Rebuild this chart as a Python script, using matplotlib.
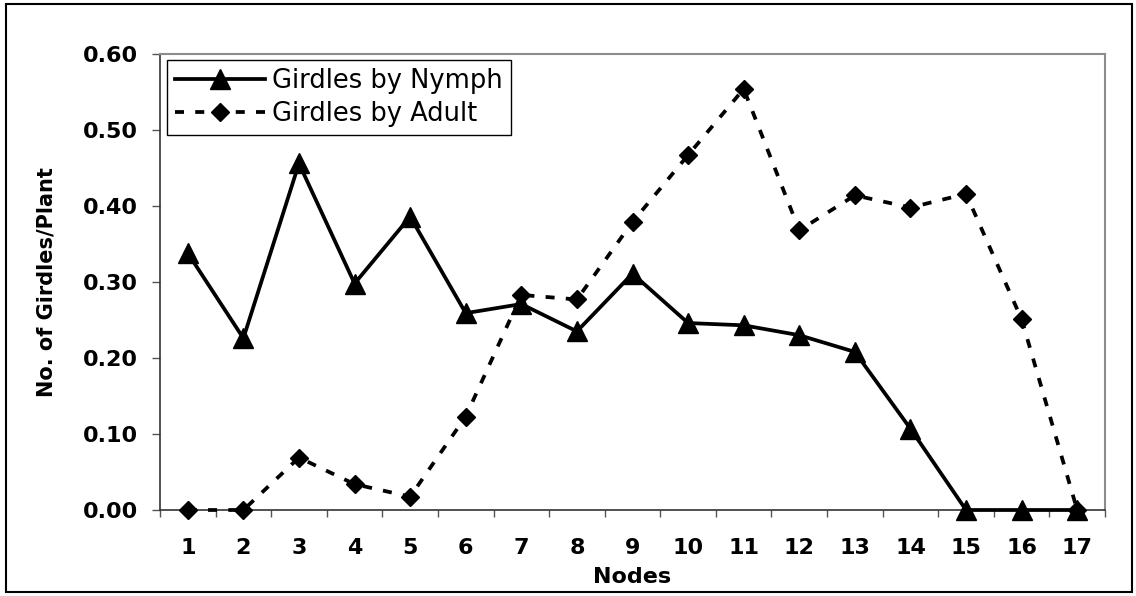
#! /usr/bin/env python3
"""
Girdles per plant by node, nymph vs adult
"""

import matplotlib
matplotlib.use('Agg')
import matplotlib.pyplot as plt
from matplotlib.patches import Rectangle
from matplotlib.ticker import FixedLocator, FormatStrFormatter

nodes = list(range(1, 18))
nymph = [0.338, 0.226, 0.456, 0.298, 0.386, 0.259, 0.271, 0.235, 0.311,
         0.246, 0.243, 0.230, 0.208, 0.107, 0.0, 0.0, 0.0]
adult = [0.0, 0.0, 0.069, 0.034, 0.0175, 0.123, 0.283, 0.277, 0.379,
         0.467, 0.554, 0.368, 0.414, 0.398, 0.416, 0.251, 0.0]
y_ticks = [0.0, 0.1, 0.2, 0.3, 0.4, 0.5, 0.6]


def main():
    plt.rcParams['font.family'] = 'DejaVu Sans'
    W, H = 1136, 596
    fig = plt.figure(figsize=(W / 100, H / 100), dpi=100)
    # plot area in pixels: left 160, right 1105, top 54, bottom 510
    ax = fig.add_axes([160 / W, 1 - 510 / H, 945 / W, 456 / H])

    ax.plot(nodes, nymph, color='black', lw=2.7, marker='^', ms=14,
            label='Girdles by Nymph', clip_on=False, zorder=3)
    ax.plot(nodes, adult, color='black', lw=2.7, ls=(0, (2.4, 3.0)),
            marker='D', ms=9.5, label='Girdles by Adult', clip_on=False,
            zorder=3)

    ax.set_xlim(0.5, 17.5)
    ax.set_ylim(0, 0.6)
    ax.set_yticks(y_ticks)
    ax.yaxis.set_major_formatter(FormatStrFormatter('%.2f'))
    ax.set_xticks(nodes)
    ax.xaxis.set_minor_locator(FixedLocator([n + 0.5 for n in [0] + nodes]))

    ax.tick_params(axis='y', which='major', direction='out', length=6,
                   width=1, color='#555555', pad=10, labelsize=16)
    ax.tick_params(axis='x', which='major', length=0, pad=20, labelsize=16)
    ax.tick_params(axis='x', which='minor', direction='out', length=5,
                   width=1, color='#555555')
    for lab in ax.get_xticklabels() + ax.get_yticklabels():
        lab.set_fontweight('bold')

    for side in ('left', 'bottom'):
        ax.spines[side].set_color('#333333')
        ax.spines[side].set_linewidth(1.2)
    for side in ('top', 'right'):
        ax.spines[side].set_color('#8c8c8c')
        ax.spines[side].set_linewidth(1.5)

    ax.set_ylabel('No. of Girdles/Plant', fontsize=15, fontweight='bold')
    ax.yaxis.set_label_coords(-0.11, 0.5)
    ax.set_xlabel('Nodes', fontsize=16, fontweight='bold')
    ax.xaxis.set_label_coords(0.5, -0.125)

    leg = ax.legend(loc='upper left', bbox_to_anchor=(7 / 945, 450 / 456),
                    borderaxespad=0, fontsize=18.5, frameon=True,
                    fancybox=False, edgecolor='black', framealpha=1,
                    handlelength=3.5, handletextpad=0.3, borderpad=0.3,
                    labelspacing=0.3, numpoints=1)
    leg.get_frame().set_linewidth(1.0)

    # outer chart border
    fig.add_artist(Rectangle((6 / W, 4 / H), 1126 / W, 588 / H,
                             transform=fig.transFigure, fill=False,
                             ec='black', lw=1.5))

    fig.savefig('out.png', dpi=100, facecolor='white')


if __name__ == '__main__':
    main()
